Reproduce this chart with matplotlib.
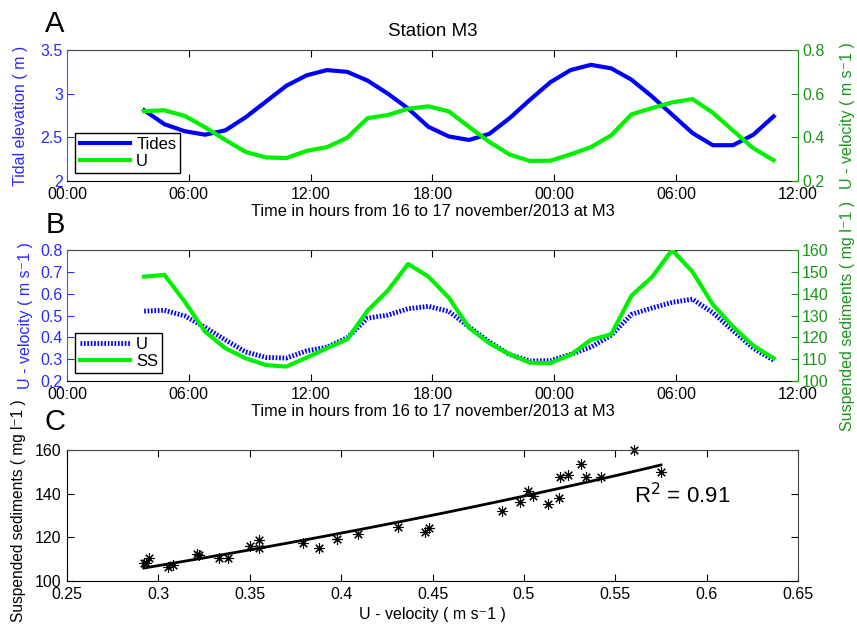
import numpy as np
import matplotlib.pyplot as plt

plt.rcParams['font.family'] = ['Liberation Sans', 'DejaVu Sans']
plt.rcParams['font.size'] = 11.5

# hourly samples, hours counted from 00:00 on 16 november
hours = [3.8, 4.8, 5.8, 6.8, 7.8, 8.8, 9.8, 10.8, 11.8, 12.8, 13.8, 14.8,
         15.8, 16.8, 17.8, 18.8, 19.8, 20.8, 21.8, 22.8, 23.8, 24.8, 25.8,
         26.8, 27.8, 28.8, 29.8, 30.8, 31.8, 32.8, 33.8, 34.8]
tides = [2.81, 2.65, 2.57, 2.53, 2.58, 2.73, 2.91, 3.09, 3.21, 3.27, 3.25,
         3.15, 3.00, 2.83, 2.62, 2.51, 2.47, 2.54, 2.72, 2.93, 3.13, 3.27,
         3.33, 3.29, 3.16, 2.97, 2.76, 2.55, 2.41, 2.41, 2.53, 2.74]
u_vel = [0.520, 0.524, 0.498, 0.446, 0.388, 0.333, 0.308, 0.305, 0.338,
         0.355, 0.398, 0.488, 0.502, 0.531, 0.542, 0.519, 0.448, 0.379,
         0.321, 0.292, 0.293, 0.322, 0.355, 0.409, 0.505, 0.534, 0.560,
         0.575, 0.513, 0.431, 0.350, 0.295]
ss = [147.8, 148.6, 136.3, 122.6, 115.0, 110.4, 107.3, 106.6, 110.7, 115.0,
      119.1, 132.2, 141.4, 153.6, 147.8, 138.2, 124.4, 117.3, 112.2, 108.4,
      108.2, 112.0, 118.8, 121.4, 139.1, 147.5, 160.0, 150.1, 135.1, 124.9,
      116.2, 110.4]

time_ticks = [0, 6, 12, 18, 24, 30, 36]
time_labels = ['00:00', '06:00', '12:00', '18:00', '00:00', '06:00', '12:00']
r2_text = 'R$^2$ = 0.91'

BLUE = '#0000ff'
BLUE_TXT = '#2a2aff'
GREEN = '#00f000'
GREEN_TXT = '#1a951a'
XLAB = 'Time in hours from 16 to 17 november/2013 at M3'
UVLAB = 'U - velocity ( m s\u207b1 )'
SSLAB = 'Suspended sediments ( mg l\u207b1 )'


def style_pair(ax, ax2):
    ax.set_xlim(0, 36)
    ax.set_xticks(time_ticks)
    ax.set_xticklabels(time_labels)
    ax.tick_params(axis='x', direction='in', length=5, top=True, pad=4)
    ax.tick_params(axis='y', direction='in', length=5, colors=BLUE_TXT, pad=3)
    ax2.tick_params(axis='y', direction='in', length=5, colors=GREEN_TXT, pad=3)
    ax.spines['left'].set_color('#5050ff')
    ax.spines['right'].set_visible(False)
    ax.spines['top'].set_color('#444444')
    for s in ['left', 'top', 'bottom']:
        ax2.spines[s].set_visible(False)
    ax2.spines['right'].set_color(GREEN_TXT)
    ax.set_xlabel(XLAB, fontsize=11.8)
    ax.xaxis.set_label_coords(0.5, -31 / 131)
    ax.xaxis.label.set_va('center')


def add_legend(ax, handles):
    ax.legend(handles=handles, loc='lower left', fontsize=12, fancybox=False,
              framealpha=1, edgecolor='k', borderaxespad=0.5, handlelength=3.0,
              handletextpad=0.4, labelspacing=0.1, borderpad=0.25)


fig = plt.figure(figsize=(8.57, 6.28), dpi=100)
pos_l, pos_w, pos_h = 67 / 857, 731 / 857, 131 / 628

# panel A
axA = fig.add_axes([pos_l, 1 - 181 / 628, pos_w, pos_h])
axA2 = axA.twinx()
l1, = axA.plot(hours, tides, color=BLUE, lw=3, label='Tides')
l2, = axA2.plot(hours, u_vel, color=GREEN, lw=3, label='U')
axA.set_ylim(2, 3.5)
axA.set_yticks([2, 2.5, 3, 3.5])
axA.set_yticklabels(['2', '2.5', '3', '3.5'])
axA2.set_ylim(0.2, 0.8)
axA2.set_yticks([0.2, 0.4, 0.6, 0.8])
axA2.set_yticklabels(['0.2', '0.4', '0.6', '0.8'])
style_pair(axA, axA2)
axA.set_ylabel('Tidal elevation ( m )', color=BLUE_TXT)
axA2.set_ylabel(UVLAB, color=GREEN_TXT)
axA.set_title('Station M3', fontsize=13.5, pad=10)
add_legend(axA2, [l1, l2])

# panel B
axB = fig.add_axes([pos_l, 1 - 381 / 628, pos_w, pos_h])
axB2 = axB.twinx()
l3, = axB.plot(hours, u_vel, color=BLUE, lw=3.5, ls=(0, (0.35, 0.35)), label='U')
l4, = axB2.plot(hours, ss, color=GREEN, lw=3, label='SS')
axB.set_ylim(0.2, 0.8)
axB.set_yticks([0.2, 0.3, 0.4, 0.5, 0.6, 0.7, 0.8])
axB.set_yticklabels(['0.2', '0.3', '0.4', '0.5', '0.6', '0.7', '0.8'])
axB2.set_ylim(100, 160)
axB2.set_yticks([100, 110, 120, 130, 140, 150, 160])
style_pair(axB, axB2)
axB.set_ylabel(UVLAB, color=BLUE_TXT)
axB2.set_ylabel(SSLAB, color=GREEN_TXT)
add_legend(axB2, [l3, l4])

# panel C
axC = fig.add_axes([pos_l, 1 - 581 / 628, pos_w, pos_h])
axC.plot(u_vel, ss, ls='none', marker=(8, 2, 0), ms=7.5, mec='k', mew=0.8,
         clip_on=False)
coef = np.polyfit(u_vel, np.log(ss), 1)
uf = np.linspace(min(u_vel), max(u_vel), 100)
axC.plot(uf, np.exp(np.polyval(coef, uf)), color='k', lw=2)
axC.set_xlim(0.25, 0.65)
axC.set_xticks([0.25, 0.3, 0.35, 0.4, 0.45, 0.5, 0.55, 0.6, 0.65])
axC.set_xticklabels(['0.25', '0.3', '0.35', '0.4', '0.45', '0.5', '0.55', '0.6', '0.65'])
axC.set_ylim(100, 160)
axC.set_yticks([100, 120, 140, 160])
axC.tick_params(direction='in', length=5, top=True, right=True, pad=4)
axC.spines['top'].set_color('#444444')
axC.spines['right'].set_color('#444444')
axC.set_xlabel(UVLAB, fontsize=11.5)
axC.xaxis.set_label_coords(0.5, -33 / 131)
axC.xaxis.label.set_va('center')
axC.set_ylabel(SSLAB, fontsize=11.2)
axC.text(0.5603, 135.7, r2_text, fontsize=16, va='baseline', ha='left')

# label positions (centre of rotated text)
for a, x, y in [(axA, -0.063, 0.5), (axB, -0.057, 0.5), (axC, -0.067, 0.54),
                (axA2, 1.068, 0.5), (axB2, 1.068, 0.5)]:
    a.yaxis.set_label_coords(x, y)
    a.yaxis.label.set_va('center')

for letter, y in [('A', 24), ('B', 225), ('C', 422)]:
    fig.text(55 / 857, 1 - y / 628, letter, fontsize=21, ha='center', va='center')

fig.savefig('out.png', dpi=100)
